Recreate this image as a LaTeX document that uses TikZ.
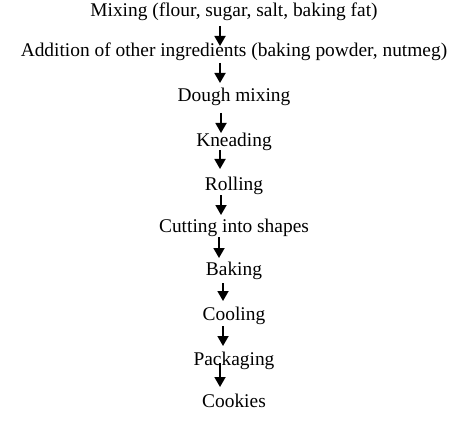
\documentclass[tikz,border=0pt]{standalone}
\usepackage{fontspec}
\setmainfont{Liberation Serif}
\usetikzlibrary{arrows.meta,calc}

\tikzset{
    stage/.style={anchor=base, inner sep=0pt, font=\fontsize{19.4}{22}\selectfont},
    flow/.style={line width=1.8pt, -{Triangle[length=10pt 0 0,width=11pt 0 0]}}
}

\begin{document}
\begin{tikzpicture}[x=1pt,y=-1pt]
    \useasboundingbox (0,0) rectangle (474,433);

    % Process stages
    \foreach \i/\y/\t in {1/17/{Mixing (flour, sugar, salt, baking fat)},
                          2/57/{Addition of other ingredients (baking powder, nutmeg)},
                          3/102/{Dough mixing},
                          4/147/{Kneading},
                          5/190/{Rolling},
                          6/232/{Cutting into shapes},
                          7/275/{Baking},
                          8/320/{Cooling},
                          9/365/{Packaging},
                          10/407/{Cookies}} {
        \node[stage] (s\i) at (234,\y) {\t};
    }

    % Arrows between stages
    \foreach \i/\j/\dx/\top/\tip in {1/2/-14/9/11, 2/3/-14/6/19, 3/4/-13/11/14,
                                     4/5/-14/3/21, 5/6/-13/5/17, 6/7/-15/5/17,
                                     7/8/-11/8/19, 8/9/-11/6/19, 9/10/-14/-2/20} {
        \draw[flow] ($(s\i.base)+(\dx,\top)$) -- ($(s\j.base)+(\dx,-\tip)$);
    }
\end{tikzpicture}
\end{document}
